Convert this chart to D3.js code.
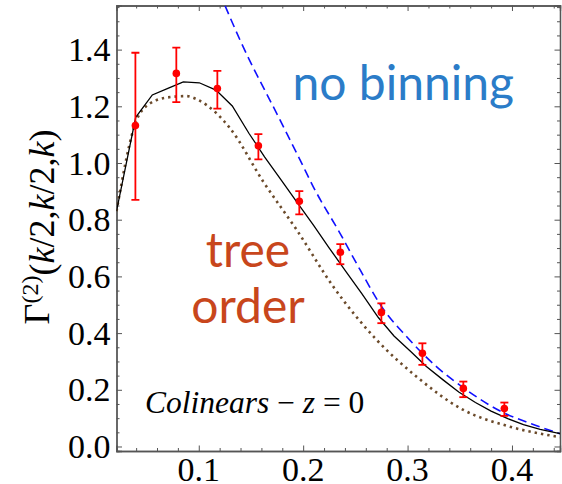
<!DOCTYPE html>
<html>
<head>
<meta charset="utf-8">
<script src="https://cdn.jsdelivr.net/npm/d3@7"></script>
<style>
  html, body { margin: 0; padding: 0; background: #fff; }
  svg { display: block; }
  .serif { font-family: "Liberation Serif", "Times New Roman", Tinos, "DejaVu Serif", serif; }
  .sans { font-family: Lato, "Open Sans", sans-serif; }
</style>
</head>
<body>
<svg id="chart" width="562" height="484"></svg>
<script>
// Measured bispectrum vertex, collinear configuration, with error bars
const kData     = [0.0393, 0.0785, 0.1178, 0.1571, 0.1963, 0.2356, 0.2749, 0.3142, 0.3534, 0.3927];
const gammaData = [1.132, 1.316, 1.263, 1.061, 0.865, 0.685, 0.473, 0.329, 0.205, 0.134];
const errLow    = [0.870, 1.215, 1.192, 1.013, 0.819, 0.643, 0.435, 0.288, 0.174, 0.108];
const errHigh   = [1.389, 1.407, 1.325, 1.102, 0.901, 0.714, 0.505, 0.364, 0.229, 0.155];

// Binned theory prediction (solid black)
const kBinned = [0.0212, 0.0396, 0.0555, 0.0704, 0.0852, 0.1005, 0.1165, 0.1321, 0.148, 0.163, 0.179,
                 0.194, 0.210, 0.225, 0.241, 0.256, 0.272, 0.287, 0.303, 0.318, 0.334, 0.349, 0.365,
                 0.380, 0.396, 0.411, 0.427, 0.446];
const gBinned = [0.83, 1.161, 1.240, 1.263, 1.286, 1.283, 1.257, 1.201, 1.105, 1.022, 0.940,
                 0.862, 0.780, 0.700, 0.617, 0.540, 0.455, 0.390, 0.335, 0.282, 0.235, 0.192, 0.155,
                 0.125, 0.098, 0.077, 0.060, 0.045];

// Tree-order prediction (dotted brown)
const kTree = [0.0212, 0.0405, 0.0533, 0.0597, 0.0740, 0.0884, 0.098, 0.1171, 0.1299, 0.1618, 0.1938,
               0.2288, 0.2704, 0.3087, 0.3534, 0.396, 0.446];
const gTree = [0.83, 1.152, 1.210, 1.222, 1.233, 1.236, 1.225, 1.175, 1.123, 0.934, 0.764,
               0.564, 0.376, 0.246, 0.129, 0.072, 0.033];

// Unbinned prediction (dashed blue)
const kNoBin = [0.1200, 0.1395, 0.1778, 0.197, 0.2097, 0.2353, 0.255, 0.2752, 0.2992, 0.3279,
                0.3566, 0.3887, 0.4185, 0.446];
const gNoBin = [1.600, 1.434, 1.152, 1.011, 0.916, 0.752, 0.620, 0.493, 0.387, 0.281,
                0.199, 0.125, 0.080, 0.045];

const xTickValues = [0.1, 0.2, 0.3, 0.4];
const yTickValues = [0.0, 0.2, 0.4, 0.6, 0.8, 1.0, 1.2, 1.4];

const svg = d3.select("#chart");
const L = 116.5, R = 560, T = 5.5, B = 451;

const x = d3.scaleLinear().domain([0.0212, 0.4460]).range([L, R]);
const y = d3.scaleLinear().domain([-0.0159, 1.5556]).range([B, T]);

svg.append("defs").append("clipPath").attr("id", "plot")
  .append("rect").attr("x", L).attr("y", T).attr("width", R - L).attr("height", B - T);

const frameColor = "#555";

// Frame with inward ticks on all four sides
const xMinor = d3.range(0.04, 0.4461, 0.02).filter(v => !xTickValues.some(t => Math.abs(t - v) < 1e-6));
const yMinor = d3.range(0.05, 1.556, 0.05).filter(v => !yTickValues.some(t => Math.abs(t - v) < 1e-6));

function frameAxis(axisFn, scale, major, minor, transform) {
  const g = svg.append("g").attr("transform", transform);
  g.append("g").call(axisFn(scale).tickValues(minor).tickSize(-3).tickFormat(""));
  g.append("g").call(axisFn(scale).tickValues(major).tickSize(-5.5).tickFormat(""));
  g.selectAll("path.domain").attr("stroke", frameColor).attr("stroke-width", 1.3);
  g.selectAll(".tick line").attr("stroke", frameColor).attr("stroke-width", 1);
  return g;
}
frameAxis(d3.axisBottom, x, xTickValues, xMinor, `translate(0,${B})`);
frameAxis(d3.axisTop, x, xTickValues, xMinor, `translate(0,${T})`);
frameAxis(d3.axisLeft, y, yTickValues, yMinor, `translate(${L},0)`);
frameAxis(d3.axisRight, y, yTickValues, yMinor, `translate(${R},0)`);

// Tick labels
svg.append("g").attr("class", "serif").selectAll("text").data(xTickValues).join("text")
  .attr("x", d => x(d)).attr("y", 481)
  .attr("text-anchor", "middle")
  .attr("font-size", 34).attr("fill", "#000")
  .text(d => d3.format(".1f")(d));

svg.append("g").attr("class", "serif").selectAll("text").data(yTickValues).join("text")
  .attr("x", 110.5).attr("y", d => y(d)).attr("dy", "0.34em")
  .attr("text-anchor", "end")
  .attr("font-size", 34).attr("fill", "#000")
  .text(d => d3.format(".1f")(d));

// Curves
const plot = svg.append("g").attr("clip-path", "url(#plot)");

const lineLinear = d3.line().x(d => x(d[0])).y(d => y(d[1]));
const lineSmooth = d3.line().x(d => x(d[0])).y(d => y(d[1])).curve(d3.curveMonotoneX);

plot.append("path")
  .attr("d", lineSmooth(d3.zip(kTree, gTree)))
  .attr("fill", "none").attr("stroke", "#6b4a2a").attr("stroke-width", 2.6)
  .attr("stroke-dasharray", "2.4,4");

plot.append("path")
  .attr("d", lineSmooth(d3.zip(kNoBin, gNoBin)))
  .attr("fill", "none").attr("stroke", "#1010ff").attr("stroke-width", 1.6)
  .attr("stroke-dasharray", "9,5");

plot.append("path")
  .attr("d", lineLinear(d3.zip(kBinned, gBinned)))
  .attr("fill", "none").attr("stroke", "#000").attr("stroke-width", 1.3);

// Data points with error bars
const pts = kData.map((k, i) => ({ k, g: gammaData[i], lo: errLow[i], hi: errHigh[i] }));
const eb = plot.append("g").attr("stroke", "#ff0000").attr("stroke-width", 1.8);
eb.selectAll("line.v").data(pts).join("line").attr("class", "v")
  .attr("x1", d => x(d.k)).attr("x2", d => x(d.k))
  .attr("y1", d => y(d.lo)).attr("y2", d => y(d.hi));
eb.selectAll("line.top").data(pts).join("line").attr("class", "top")
  .attr("x1", d => x(d.k) - 4).attr("x2", d => x(d.k) + 4)
  .attr("y1", d => y(d.hi)).attr("y2", d => y(d.hi));
eb.selectAll("line.bot").data(pts).join("line").attr("class", "bot")
  .attr("x1", d => x(d.k) - 4).attr("x2", d => x(d.k) + 4)
  .attr("y1", d => y(d.lo)).attr("y2", d => y(d.lo));
plot.append("g").selectAll("circle").data(pts).join("circle")
  .attr("cx", d => x(d.k)).attr("cy", d => y(d.g)).attr("r", 3.8)
  .attr("fill", "#ff0000");

// Annotations
svg.append("text").attr("class", "sans").attr("x", 292.5).attr("y", 100)
  .attr("font-size", 48).attr("fill", "#2b7cc8")
  .text("no binning");

const tree = svg.append("text").attr("class", "sans").attr("text-anchor", "middle")
  .attr("font-size", 48).attr("fill", "#c8461c");
tree.append("tspan").attr("x", 248).attr("y", 267).text("tree");
tree.append("tspan").attr("x", 248).attr("y", 323).text("order");

const col = svg.append("text").attr("class", "serif").attr("x", 145).attr("y", 413)
  .attr("font-size", 31.5).attr("fill", "#000");
col.append("tspan").attr("font-style", "italic").text("Colinears");
col.append("tspan").text(" \u2212 ");
col.append("tspan").attr("font-style", "italic").text("z");
col.append("tspan").text(" = 0");

// Axis title
const yl = svg.append("text").attr("class", "serif")
  .attr("transform", "translate(48.5,227) rotate(-90)")
  .attr("text-anchor", "middle")
  .attr("font-size", 36).attr("fill", "#000");
yl.append("tspan").text("\u0393");
yl.append("tspan").attr("dy", "-0.42em").attr("font-size", 24).text("(2)");
yl.append("tspan").attr("dy", "0.42em").text("(");
yl.append("tspan").attr("font-style", "italic").text("k");
yl.append("tspan").text("/2,");
yl.append("tspan").attr("font-style", "italic").text("k");
yl.append("tspan").text("/2,");
yl.append("tspan").attr("font-style", "italic").text("k");
yl.append("tspan").text(")");
</script>
</body>
</html>
